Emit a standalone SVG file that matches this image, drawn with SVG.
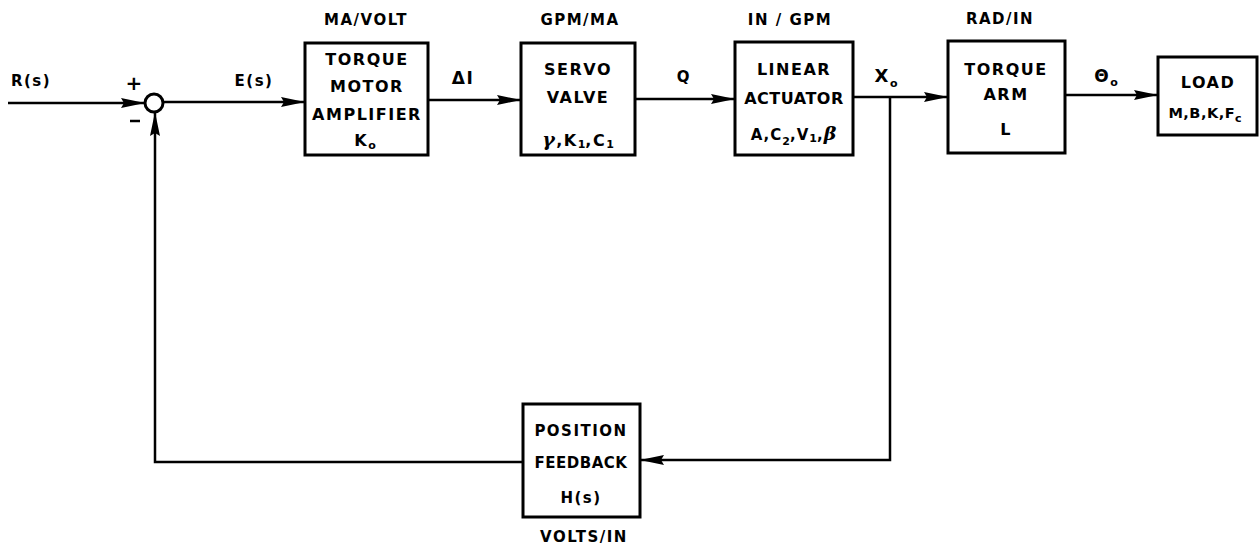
<svg xmlns="http://www.w3.org/2000/svg" width="1260" height="554" viewBox="0 0 1260 554">
<style>
text{font-family:"DejaVu Sans","Liberation Sans",sans-serif;font-weight:bold;fill:#000;text-anchor:middle;}
.t{font-size:16px;letter-spacing:1.5px;}
.m{font-size:15px;letter-spacing:1.5px;}
.box{fill:#fff;stroke:#000;stroke-width:3;}
.ln{fill:none;stroke:#000;stroke-width:2.5;}
.sub{font-size:11px;letter-spacing:0;}
.gr{font-family:"DejaVu Serif","Liberation Serif",serif;font-style:italic;}
</style>
<defs>
<marker id="ah" markerUnits="userSpaceOnUse" markerWidth="26" markerHeight="12" refX="24" refY="6" orient="auto">
<path d="M0,1 L24,6 L0,11 L3,6 z" fill="#000"/>
</marker>
</defs>
<g id="connectors">
<line class="ln" x1="8" y1="103" x2="145" y2="103" marker-end="url(#ah)"/>
<line class="ln" x1="163" y1="102" x2="305" y2="102" marker-end="url(#ah)"/>
<line class="ln" x1="428" y1="100" x2="521" y2="100" marker-end="url(#ah)"/>
<line class="ln" x1="635" y1="99" x2="735" y2="99" marker-end="url(#ah)"/>
<line class="ln" x1="853" y1="97" x2="948" y2="97" marker-end="url(#ah)"/>
<line class="ln" x1="1065" y1="95" x2="1158" y2="95" marker-end="url(#ah)"/>
<polyline class="ln" points="890,97 890,460 640,460" marker-end="url(#ah)"/>
<polyline class="ln" points="523,462 155,462 155,112" marker-end="url(#ah)"/>
</g>
<g id="labels">
<text class="m" x="31" y="86">R(s)</text>
<text class="m" x="254" y="86">E(s)</text>
<text class="m" x="463" y="84" style="font-size:17px">ΔI</text>
<text class="m" x="684" y="82">Q</text>
<text class="t" x="886" y="82" style="font-size:18px">X<tspan class="sub" dy="5">o</tspan></text>
<text class="t" x="1106" y="82" style="font-size:17px">Θ<tspan class="sub" dy="4">o</tspan></text>
<text class="m" x="366" y="25">MA/VOLT</text>
<text class="m" x="580" y="25">GPM/MA</text>
<text class="m" x="790" y="25">IN / GPM</text>
<text class="m" x="1000" y="24">RAD/IN</text>
<text class="m" x="584" y="542">VOLTS/IN</text>
</g>
<g id="sum">
<circle cx="154" cy="103" r="9" fill="#fff" stroke="#000" stroke-width="3"/>
<text style="font-size:20px" x="134" y="90">+</text>
<line x1="130" y1="121" x2="140" y2="121" stroke="#000" stroke-width="2.5"/>
</g>
<g id="torque-motor-amplifier">
<rect class="box" x="305" y="43" width="123" height="112"/>
<text class="t" x="367" y="65">TORQUE</text>
<text class="t" x="367" y="92">MOTOR</text>
<text class="t" x="367" y="120">AMPLIFIER</text>
<text class="t" x="365" y="146">K<tspan class="sub" dy="3">o</tspan></text>
</g>
<g id="servo-valve">
<rect class="box" x="521" y="43" width="114" height="112"/>
<text class="t" x="578" y="75">SERVO</text>
<text class="t" x="578" y="103">VALVE</text>
<text class="t" x="578" y="146"><tspan class="gr" style="font-size:19px">γ</tspan>,K<tspan class="sub" dy="2">1</tspan><tspan dy="-2">,C</tspan><tspan class="sub" dy="2">1</tspan></text>
</g>
<g id="linear-actuator">
<rect class="box" x="735" y="42" width="118" height="113"/>
<text class="t" x="794" y="75">LINEAR</text>
<text class="t" x="794" y="104" style="letter-spacing:0.5px">ACTUATOR</text>
<text class="m" x="794" y="140" style="letter-spacing:1px">A,C<tspan class="sub" dy="5">2</tspan><tspan dy="-5">,V</tspan><tspan class="sub" dy="2">1</tspan><tspan dy="-2">,</tspan><tspan class="gr" style="font-size:19px">β</tspan></text>
</g>
<g id="torque-arm">
<rect class="box" x="948" y="41" width="117" height="112"/>
<text class="t" x="1006" y="75">TORQUE</text>
<text class="t" x="1006" y="100">ARM</text>
<text class="t" x="1006" y="135">L</text>
</g>
<g id="load">
<rect class="box" x="1158" y="57" width="99" height="78"/>
<text class="t" x="1208" y="88">LOAD</text>
<text x="1205" y="118" style="font-size:14.5px;letter-spacing:0.5px">M,B,K,F<tspan class="sub" dy="4">c</tspan></text>
</g>
<g id="position-feedback">
<rect class="box" x="523" y="404" width="117" height="113"/>
<text class="m" x="581" y="436">POSITION</text>
<text class="m" x="581" y="468" style="letter-spacing:0.5px">FEEDBACK</text>
<text class="m" x="581" y="503">H(s)</text>
</g>
</svg>
